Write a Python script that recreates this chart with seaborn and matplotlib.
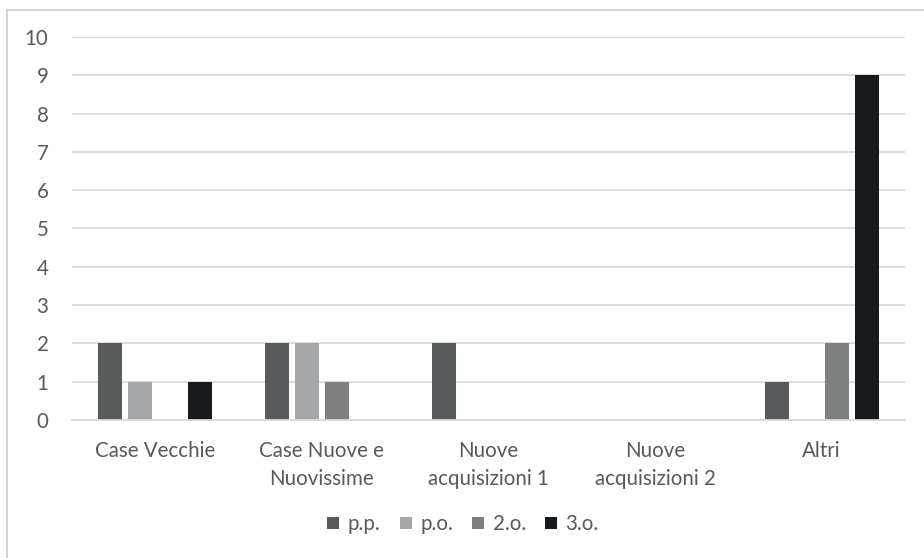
import matplotlib
matplotlib.use("Agg")
import matplotlib.pyplot as plt
import seaborn as sns
import pandas as pd
from matplotlib.patches import Rectangle
from matplotlib.lines import Line2D

categories = ["Case Vecchie", "Case Nuove e\nNuovissime", "Nuove\nacquisizioni 1", "Nuove\nacquisizioni 2", "Altri"]
series = ["p.p.", "p.o.", "2.o.", "3.o."]
pp = [2, 2, 2, 0, 1]
po = [1, 2, 0, 0, 0]
o2 = [0, 1, 0, 0, 2]
o3 = [1, 0, 0, 0, 9]
colors = ["#585b5b", "#a5a7a8", "#7e8080", "#171a1c"]
yticks = list(range(0, 11))

rows = []
for name, vals in zip(series, [pp, po, o2, o3]):
    for c, v in zip(categories, vals):
        rows.append({"cat": c, "series": name, "value": v})
df = pd.DataFrame(rows)

sns.set_theme(style="white")
plt.rcParams["font.family"] = ["Lato", "DejaVu Sans"]
text_color = "#595959"
fs = 14.8

fig = plt.figure(figsize=(9.24, 5.58), dpi=100)
ax = fig.add_axes([72/924, 1-420/558, (905-72)/924, (420-37)/558])

sns.barplot(data=df, x="cat", y="value", hue="series", palette=colors,
            width=0.72, gap=0.2, ax=ax, saturation=1, legend=False, linewidth=0)

ax.set_ylim(0, 10)
ax.set_yticks(yticks)
ax.set_xlim(-0.5, len(categories) - 0.5)
ax.yaxis.grid(True, color="#d9d9d9", linewidth=1.3)
ax.set_axisbelow(True)
for s in ["top", "right", "left"]:
    ax.spines[s].set_visible(False)
ax.spines["bottom"].set_color("#d9d9d9")
ax.spines["bottom"].set_linewidth(1.3)
ax.set_xlabel("")
ax.set_ylabel("")
ax.tick_params(axis="both", length=0, labelsize=fs, labelcolor=text_color)
ax.tick_params(axis="y", pad=17)
ax.tick_params(axis="x", pad=15)
for lbl in ax.get_xticklabels():
    lbl.set_linespacing(1.5)

handles = [Line2D([], [], marker="s", linestyle="none", markersize=8.6,
                  markerfacecolor=c, markeredgewidth=0) for c in colors]
fig.legend(handles, series, loc="center", bbox_to_anchor=(463/924, 1-524/558),
           ncol=4, frameon=False, fontsize=fs, labelcolor=text_color,
           handlelength=0.6, handletextpad=0.4, columnspacing=0.93)

fig.patches.append(Rectangle((7/924, -0.1), 1.2, 1.1 - 10/558, transform=fig.transFigure,
                             fill=False, edgecolor="#d0d0d0", linewidth=1.3, zorder=0))

fig.savefig("out.png", dpi=100, facecolor="white")
